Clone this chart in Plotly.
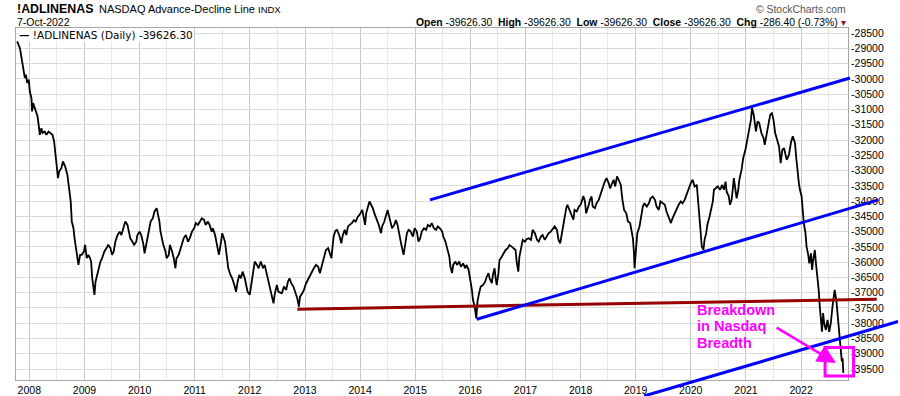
import numpy as np
import pandas as pd
import plotly.graph_objects as go

# ---------------- data ----------------
# decimal-year positions and NASDAQ A/D line values
ADL_YEARS = [
    2007.78, 2007.83, 2007.87, 2007.89, 2007.92, 2007.94, 2007.96, 2007.99, 2008.01, 2008.04,
    2008.05, 2008.07, 2008.10, 2008.12, 2008.15, 2008.17, 2008.19, 2008.22, 2008.24, 2008.28,
    2008.31, 2008.35, 2008.39, 2008.42, 2008.45, 2008.47, 2008.49, 2008.52, 2008.54, 2008.58,
    2008.61, 2008.65, 2008.69, 2008.72, 2008.75, 2008.77, 2008.80, 2008.82, 2008.84, 2008.87,
    2008.89, 2008.92, 2008.95, 2008.99, 2009.01, 2009.04, 2009.07, 2009.10, 2009.12, 2009.14,
    2009.18, 2009.20, 2009.23, 2009.26, 2009.29, 2009.32, 2009.36, 2009.40, 2009.43, 2009.47,
    2009.50, 2009.53, 2009.56, 2009.60, 2009.64, 2009.67, 2009.71, 2009.74, 2009.78, 2009.80,
    2009.83, 2009.87, 2009.90, 2009.94, 2009.96, 2010.00, 2010.03, 2010.07, 2010.09, 2010.12,
    2010.14, 2010.18, 2010.20, 2010.24, 2010.27, 2010.31, 2010.33, 2010.36, 2010.38, 2010.41,
    2010.43, 2010.47, 2010.49, 2010.53, 2010.55, 2010.59, 2010.62, 2010.65, 2010.67, 2010.71,
    2010.73, 2010.77, 2010.80, 2010.84, 2010.88, 2010.91, 2010.95, 2010.99, 2011.02, 2011.06,
    2011.09, 2011.13, 2011.17, 2011.20, 2011.24, 2011.27, 2011.31, 2011.33, 2011.37, 2011.41,
    2011.44, 2011.47, 2011.50, 2011.55, 2011.59, 2011.61, 2011.65, 2011.68, 2011.72, 2011.75,
    2011.78, 2011.81, 2011.84, 2011.87, 2011.91, 2011.93, 2011.96, 2012.00, 2012.02, 2012.05,
    2012.09, 2012.13, 2012.16, 2012.20, 2012.24, 2012.27, 2012.31, 2012.34, 2012.37, 2012.40,
    2012.43, 2012.45, 2012.49, 2012.52, 2012.58, 2012.62, 2012.66, 2012.69, 2012.72, 2012.75,
    2012.79, 2012.83, 2012.86, 2012.89, 2012.91, 2012.95, 2012.98, 2013.02, 2013.05, 2013.09,
    2013.13, 2013.16, 2013.20, 2013.24, 2013.27, 2013.31, 2013.34, 2013.38, 2013.42, 2013.45,
    2013.48, 2013.50, 2013.52, 2013.55, 2013.58, 2013.62, 2013.66, 2013.68, 2013.72, 2013.75,
    2013.78, 2013.81, 2013.85, 2013.89, 2013.92, 2013.96, 2013.99, 2014.04, 2014.06, 2014.09,
    2014.11, 2014.15, 2014.17, 2014.20, 2014.23, 2014.27, 2014.31, 2014.34, 2014.38, 2014.40,
    2014.44, 2014.47, 2014.50, 2014.52, 2014.55, 2014.58, 2014.62, 2014.65, 2014.68, 2014.71,
    2014.75, 2014.79, 2014.81, 2014.85, 2014.88, 2014.92, 2014.96, 2014.99, 2015.03, 2015.06,
    2015.09, 2015.12, 2015.16, 2015.20, 2015.23, 2015.27, 2015.30, 2015.34, 2015.38, 2015.41,
    2015.45, 2015.49, 2015.51, 2015.55, 2015.58, 2015.62, 2015.64, 2015.67, 2015.69, 2015.73,
    2015.76, 2015.80, 2015.83, 2015.87, 2015.91, 2015.93, 2015.97, 2016.00, 2016.03, 2016.05,
    2016.08, 2016.11, 2016.13, 2016.16, 2016.19, 2016.23, 2016.27, 2016.30, 2016.33, 2016.35,
    2016.39, 2016.41, 2016.44, 2016.46, 2016.48, 2016.51, 2016.53, 2016.57, 2016.60, 2016.64,
    2016.68, 2016.71, 2016.75, 2016.78, 2016.82, 2016.84, 2016.87, 2016.89, 2016.92, 2016.95,
    2016.99, 2017.02, 2017.06, 2017.10, 2017.13, 2017.17, 2017.21, 2017.24, 2017.28, 2017.31,
    2017.35, 2017.39, 2017.42, 2017.46, 2017.49, 2017.53, 2017.57, 2017.60, 2017.63, 2017.66,
    2017.70, 2017.74, 2017.76, 2017.80, 2017.83, 2017.87, 2017.89, 2017.93, 2017.97, 2018.00,
    2018.03, 2018.05, 2018.08, 2018.10, 2018.14, 2018.17, 2018.20, 2018.22, 2018.26, 2018.29,
    2018.33, 2018.37, 2018.40, 2018.44, 2018.47, 2018.51, 2018.535, 2018.56, 2018.60, 2018.63,
    2018.66, 2018.69, 2018.73, 2018.76, 2018.79, 2018.83, 2018.86, 2018.90, 2018.92, 2018.95,
    2018.97, 2018.98, 2019.01, 2019.03, 2019.07, 2019.10, 2019.13, 2019.16, 2019.20, 2019.24,
    2019.27, 2019.31, 2019.35, 2019.38, 2019.42, 2019.45, 2019.49, 2019.53, 2019.56, 2019.60,
    2019.64, 2019.67, 2019.71, 2019.74, 2019.78, 2019.82, 2019.85, 2019.89, 2019.93, 2019.96,
    2020.00, 2020.035, 2020.07, 2020.11, 2020.13, 2020.16, 2020.18, 2020.20, 2020.23, 2020.25,
    2020.28, 2020.30, 2020.34, 2020.37, 2020.40, 2020.42, 2020.46, 2020.49, 2020.53, 2020.57,
    2020.60, 2020.63, 2020.65, 2020.69, 2020.71, 2020.74, 2020.76, 2020.78, 2020.81, 2020.83,
    2020.86, 2020.88, 2020.92, 2020.95, 2020.99, 2021.01, 2021.04, 2021.06, 2021.09, 2021.11,
    2021.14, 2021.16, 2021.18, 2021.21, 2021.24, 2021.28, 2021.32, 2021.34, 2021.37, 2021.40,
    2021.44, 2021.47, 2021.50, 2021.53, 2021.56, 2021.60, 2021.63, 2021.66, 2021.69, 2021.72,
    2021.74, 2021.78, 2021.80, 2021.82, 2021.85, 2021.89, 2021.91, 2021.93, 2021.96, 2021.98,
    2022.01, 2022.03, 2022.05, 2022.08, 2022.10, 2022.13, 2022.15, 2022.18, 2022.20, 2022.22,
    2022.25, 2022.27, 2022.30, 2022.32, 2022.34, 2022.36, 2022.38, 2022.40, 2022.42, 2022.45,
    2022.48, 2022.51, 2022.54, 2022.57, 2022.61, 2022.64, 2022.67, 2022.70, 2022.72, 2022.74,
    2022.755, 2022.767,
]
ADL_VALUES = [
    -28770, -28990, -29420, -29700, -29970, -29860, -30130, -30020, -30410, -30630,
    -31060, -30790, -30950, -31060, -31230, -31500, -31830, -31610, -31770, -31720,
    -31830, -31720, -31770, -31830, -32050, -32370, -32810, -33250, -33030, -32920,
    -32700, -32870, -33140, -33520, -34010, -34670, -34890, -35220, -35490, -35760,
    -36090, -35760, -35760, -35650, -35430, -35870, -35760, -35870, -35980, -36530,
    -37070, -36640, -36420, -36200, -35980, -35870, -35650, -35540, -35430, -35540,
    -35760, -35650, -35330, -35110, -35000, -35110, -34890, -34670, -34780, -35000,
    -35220, -35330, -35430, -35330, -35110, -35000, -35110, -35430, -35710, -35430,
    -35220, -34890, -34670, -34560, -34340, -34230, -34400, -34670, -35000, -35330,
    -35430, -35650, -35870, -35760, -35430, -35650, -35870, -36200, -35870, -35760,
    -35650, -35430, -35220, -35110, -35330, -35220, -35000, -34890, -34720, -34780,
    -34670, -34560, -34610, -34780, -34670, -34780, -35000, -34890, -35110, -35430,
    -35760, -35430, -35050, -35330, -35870, -36200, -36420, -36530, -36750, -36970,
    -36640, -36420, -36530, -36310, -36530, -36750, -36970, -37070, -36860, -36530,
    -35980, -36090, -36200, -35980, -36200, -36090, -36420, -36640, -36860, -37180,
    -37350, -37070, -36750, -36970, -37020, -36800, -36910, -36640, -36530, -36690,
    -36800, -37020, -37180, -37460, -37130, -37020, -36910, -36690, -36580, -36420,
    -36310, -36200, -36090, -36150, -36360, -36090, -35820, -35600, -35540, -35710,
    -35870, -35490, -35160, -34980, -34940, -35110, -35380, -35160, -34940, -35110,
    -34830, -34780, -34720, -34620, -34670, -34510, -34450, -34290, -34450, -34780,
    -34400, -34180, -34010, -34120, -34230, -34450, -34620, -34780, -35050, -34830,
    -34670, -34450, -34290, -34450, -34670, -34890, -34780, -34620, -34780, -35110,
    -35440, -35760, -35540, -35050, -34940, -35000, -35160, -34890, -35000, -35330,
    -35220, -35000, -34890, -34940, -34780, -34830, -34720, -34890, -34940, -34830,
    -34890, -35000, -35160, -35330, -35540, -35820, -36150, -36360, -36090, -35980,
    -36090, -35980, -36150, -36040, -36200, -36090, -36250, -36530, -36910, -37240,
    -37460, -37840, -37290, -37020, -36800, -36750, -36640, -36470, -36360, -36530,
    -36690, -36420, -36200, -36530, -36750, -36360, -35930, -35820, -35710, -35600,
    -35540, -35440, -35490, -35540, -35600, -35980, -36310, -35820, -35490, -35270,
    -35330, -35250, -35220, -35270, -34940, -35050, -35270, -35330, -35160, -35110,
    -35270, -35110, -35050, -35000, -34940, -34830, -34940, -35270, -35380, -35050,
    -34610, -34230, -34120, -34290, -34400, -34610, -34290, -34340, -34180, -34120,
    -33960, -33830, -34010, -34400, -34180, -33960, -33850, -34180, -34230, -34070,
    -33960, -33740, -33520, -33360, -33250, -33410, -33580, -33470, -33300, -33520,
    -33190, -33300, -33470, -33960, -34290, -34400, -34670, -34720, -34940, -35220,
    -35710, -36200, -35490, -35050, -34830, -34510, -34180, -34070, -34180, -34070,
    -33910, -33850, -33960, -34180, -34290, -34010, -34070, -34120, -34340, -34510,
    -34720, -34560, -34400, -34230, -34120, -34010, -34070, -33960, -33740, -33580,
    -33410, -33300, -33520, -33470, -33960, -34510, -34940, -35490, -35600, -35270,
    -35050, -34780, -34510, -34290, -34010, -33630, -33580, -33520, -33630, -33470,
    -33630, -33360, -33690, -33850, -34120, -33960, -33630, -33250, -33630, -33910,
    -33630, -33300, -32970, -32590, -32320, -32100, -31880, -31550, -31340, -30950,
    -31170, -31440, -31720, -31390, -31440, -31770, -31940, -32160, -31880, -31550,
    -31170, -31120, -31340, -31770, -31990, -32210, -32760, -32320, -32260, -32540,
    -32650, -32480, -32210, -32050, -31880, -32100, -32540, -32970, -33410, -33630,
    -33850, -34290, -34720, -35050, -35490, -35760, -36040, -35710, -36250, -35930,
    -35600, -36040, -36470, -36910, -37460, -38000, -38280, -37670, -38000, -38220,
    -37890, -38280, -38000, -37460, -36910, -37240, -37790, -38490, -38900, -39250,
    -39150, -39626.30,
]

Y_TICKS = [-28500, -29000, -29500, -30000, -30500, -31000, -31500, -32000, -32500, -33000,
           -33500, -34000, -34500, -35000, -35500, -36000, -36500, -37000, -37500, -38000,
           -38500, -39000, -39500]
Y_TICK_LABELS = [str(v) for v in Y_TICKS]

# analyst trendlines (decimal year, value) pairs
RED_LINE_YEARS = [2012.862, 2023.374]
RED_LINE_VALUES = [-37543, -37215]
UPPER_BLUE_YEARS = [2015.27, 2022.889]
UPPER_BLUE_VALUES = [-33959, -29969]
MIDDLE_BLUE_YEARS = [2016.117, 2023.403]
MIDDLE_BLUE_VALUES = [-37871, -33959]
LOWER_BLUE_YEARS = [2019.152, 2023.76]
LOWER_BLUE_VALUES = [-40385, -37943]
BOX_YEARS = [2022.436, 2022.953]
BOX_VALUES = [-38795, -39730]
ARROW_TAIL = (2021.529, -38113)
ARROW_TIP = (2022.635, -39305)
NOTE_POS = (2020.068, -38107)
NOTE_LINES = ["Breakdown", "in Nasdaq", "Breadth"]

X_START, X_END = "2007-10-05", "2022-11-08"
Y_MIN, Y_MAX = -39860, -28330

# ---------------- helpers ----------------
def to_date(fy):
    y = int(np.floor(fy))
    t0 = pd.Timestamp(year=y, month=1, day=1)
    t1 = pd.Timestamp(year=y + 1, month=1, day=1)
    return t0 + (t1 - t0) * (fy - y)

def dstr(fy):
    return to_date(fy).strftime("%Y-%m-%d %H:%M:%S")

W, H = 900, 396
ML, MR, MT, MB = 16, 0, 28, 0
PW, PH = W - ML - MR, H - MT - MB     # 884 x 368, page x 16..900, y 28..396
XDOM_END = 832 / PW          # main plot spans page 16..848 px
YDOM_START = 16 / PH         # main plot spans page 28..380 px

def px(xp):   # page pixel -> paper fraction
    return (xp - ML) / PW

def py(yp):
    return (H - MB - yp) / PH

t0, t1 = pd.Timestamp(X_START), pd.Timestamp(X_END)
x2_end = t0 + (t1 - t0) / XDOM_END
y2_low = Y_MAX - (Y_MAX - Y_MIN) / (1 - YDOM_START)

FONT = "Liberation Sans, Arial, sans-serif"

fig = go.Figure()
fig.add_trace(go.Scatter(
    x=[to_date(v) for v in ADL_YEARS], y=ADL_VALUES, mode="lines",
    line=dict(color="#000000", width=1.8), xaxis="x", yaxis="y",
    hoverinfo="skip", showlegend=False,
))
# invisible trace to instantiate the overlay axes
fig.add_trace(go.Scatter(x=[to_date(2015.0)], y=[-35000], mode="markers",
                         marker=dict(opacity=0), xaxis="x2", yaxis="y2",
                         hoverinfo="skip", showlegend=False))

shapes = []
def seg(xs, ys, color, width):
    shapes.append(dict(type="line", xref="x2", yref="y2",
                       x0=dstr(xs[0]), x1=dstr(xs[1]), y0=ys[0], y1=ys[1],
                       line=dict(color=color, width=width), layer="above"))

seg(RED_LINE_YEARS, RED_LINE_VALUES, "#990000", 3)
seg(UPPER_BLUE_YEARS, UPPER_BLUE_VALUES, "#0000ff", 3)
seg(MIDDLE_BLUE_YEARS, MIDDLE_BLUE_VALUES, "#0000ff", 3)
seg(LOWER_BLUE_YEARS, LOWER_BLUE_VALUES, "#0000ff", 3)
shapes.append(dict(type="rect", xref="x2", yref="y2",
                   x0=dstr(BOX_YEARS[0]), x1=dstr(BOX_YEARS[1]),
                   y0=BOX_VALUES[0], y1=BOX_VALUES[1],
                   line=dict(color="#ff00ff", width=3), layer="above"))

annotations = []
annotations.append(dict(xref="x2", yref="y2", axref="x2", ayref="y2",
                        x=dstr(ARROW_TIP[0]), y=ARROW_TIP[1],
                        ax=dstr(ARROW_TAIL[0]), ay=ARROW_TAIL[1],
                        text="", showarrow=True, arrowhead=2, arrowsize=1.5,
                        arrowwidth=2.5, arrowcolor="#ff00ff", standoff=0))
line_h = 16.3 * (Y_MAX - Y_MIN) / 352
for i, t in enumerate(NOTE_LINES):
    annotations.append(dict(xref="x2", yref="y2", x=dstr(NOTE_POS[0]),
                            y=NOTE_POS[1] + (1 - i) * line_h,
                            text="<b>%s</b>" % t, showarrow=False,
                            xanchor="left", yanchor="middle",
                            font=dict(family=FONT, size=14.5, color="#ff00ff")))

def txt(text, xp, yp, size, anchor="left", color="#000000", family=FONT, bg=None):
    d = dict(xref="paper", yref="paper", x=px(xp), y=py(yp), text=text,
             showarrow=False, xanchor=anchor, yanchor="middle",
             font=dict(family=family, size=size, color=color))
    if bg:
        d["bgcolor"] = bg
        d["borderpad"] = 0
    annotations.append(d)

txt("<b>!ADLINENAS</b>", 15, 9, 12.4)
txt("NASDAQ Advance-Decline Line", 96.5, 9.5, 11)
txt("INDX", 256, 9.8, 9.5)
txt("7-Oct-2022", 15, 22.5, 10.5)
NB = "\u00a0"
hdr = ("<b>Open</b> -39626.30" + NB * 2 + "<b>High</b> -39626.30" + NB * 2 +
       "<b>Low</b> -39626.30" + NB * 2 + "<b>Close</b> -39626.30" + NB * 2 +
       "<b>Chg</b> -286.40 (-0.73%) <span style='color:#8b1a1a'>▾</span>")
txt(hdr, 848, 22.5, 10.4, anchor="right")
txt("© StockCharts.com", 848, 9, 10.4, anchor="right", color="#555555")
txt("<b>—</b> !ADLINENAS (Daily) -39626.30", 18, 34.5, 10.5,
    family="DejaVu Sans, Verdana, sans-serif", bg="#ffffff")

fig.update_layout(
    width=W, height=H, template="none",
    margin=dict(l=ML, r=MR, t=MT, b=MB, pad=0),
    paper_bgcolor="#ffffff", plot_bgcolor="rgba(0,0,0,0)",
    showlegend=False, shapes=shapes, annotations=annotations,
    xaxis=dict(type="date", domain=[0, XDOM_END], anchor="y",
               range=[X_START, X_END], dtick="M12", tick0="2008-01-01",
               tickformat="%Y", ticks="", showgrid=True, gridcolor="#c8c8c8",
               gridwidth=1, showline=True, linecolor="#a8a8a8", linewidth=1,
               mirror=True, zeroline=False, automargin=False,
               tickfont=dict(family=FONT, size=10.5, color="#000000"),
               minor=dict(dtick="M6", tick0="2008-01-01", showgrid=True,
                          gridcolor="#e8e8e8", gridwidth=1, ticks="")),
    yaxis=dict(domain=[YDOM_START, 1], anchor="x", side="right",
               range=[Y_MIN, Y_MAX], tickvals=Y_TICKS, ticktext=Y_TICK_LABELS,
               ticks="", showgrid=True, gridcolor="#dcdcdc", gridwidth=1,
               showline=True, linecolor="#a8a8a8", linewidth=1, mirror=True,
               zeroline=False, automargin=False,
               tickfont=dict(family=FONT, size=10.5, color="#000000")),
    xaxis2=dict(type="date", domain=[0, 1], anchor="y2",
                range=[X_START, x2_end.strftime("%Y-%m-%d %H:%M:%S")],
                visible=False, showgrid=False, zeroline=False),
    yaxis2=dict(domain=[0, 1], anchor="x2", range=[y2_low, Y_MAX],
                visible=False, showgrid=False, zeroline=False),
)

# remove the browser's default 8px page margin so the figure sits at (0, 0)
fig.write_html("out.html",
               config={"displayModeBar": False, "staticPlot": True},
               post_script="document.body.style.margin='0px';"
                           "document.body.style.overflow='hidden';")
